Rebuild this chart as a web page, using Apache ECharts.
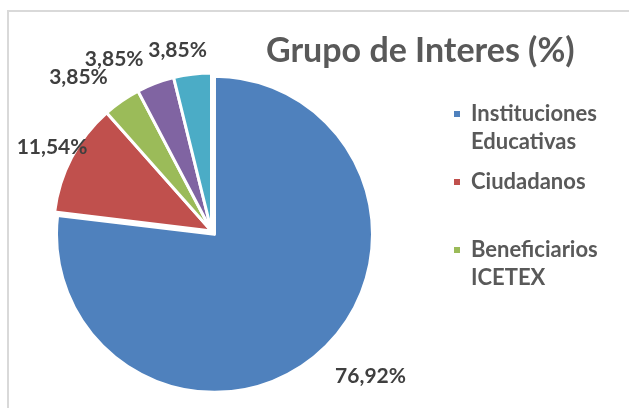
<!DOCTYPE html>
<html>
<head>
<meta charset="utf-8">
<script src="https://cdn.jsdelivr.net/npm/echarts@6/dist/echarts.min.js"></script>
<style>
  html, body { margin: 0; padding: 0; background: #ffffff; }
  #main { width: 629px; height: 408px; }
</style>
</head>
<body>
<div id="main"></div>
<script>
// data
const categories = [
  'Instituciones Educativas',
  'Ciudadanos',
  'Beneficiarios ICETEX',
  'Entidades Públicas',
  'Otros'
];
const shares = [76.92, 11.54, 3.85, 3.85, 3.85];
const legendShown = ['Instituciones Educativas', 'Ciudadanos', 'Beneficiarios ICETEX'];

// styling
const sliceColors = ['#4f81bd', '#c0504d', '#9bbb59', '#8064a2', '#4bacc6'];
const labelLen = [32, 22, 28.5, 26, 24];   // radial distance of each label
const labelLen2 = [30, 0, 27, 32, 12];     // horizontal shift of each label

const chart = echarts.init(document.getElementById('main'));

const option = {
  backgroundColor: '#ffffff',
  animation: false,
  title: {
    text: 'Grupo de Interes (%)',
    left: 261,
    top: 29,
    textStyle: {
      fontFamily: 'Lato',
      fontWeight: 'bold',
      fontSize: 34,
      color: '#595959'
    }
  },
  legend: {
    orient: 'vertical',
    left: 447,
    top: 95,
    itemGap: 12,
    itemWidth: 13,
    itemHeight: 36,
    // square at the top-left of the icon box so it lines up with the first text line
    icon: 'path://M0,0h8v8h-8z M13,36L13,36',
    data: legendShown,
    selectedMode: false,
    formatter: (name) => {
      const parts = name.split(' ');
      return parts.length > 1 ? parts.join('\n') : name + '\n ';
    },
    textStyle: {
      fontFamily: 'Lato',
      fontWeight: 'bold',
      fontSize: 22,
      lineHeight: 28,
      color: '#595959'
    }
  },
  graphic: [
    {
      type: 'rect',
      shape: { x: 8, y: 11, width: 700, height: 500 },
      style: { fill: 'none', stroke: '#d9d9d9', lineWidth: 2 },
      silent: true
    }
  ],
  series: [
    {
      type: 'pie',
      center: [211.5, 231],
      radius: 158,
      startAngle: 90,
      clockwise: true,
      selectedMode: 'single',
      selectedOffset: 4.5,
      avoidLabelOverlap: false,
      emphasis: { disabled: true },
      itemStyle: {
        borderColor: '#ffffff',
        borderWidth: 3
      },
      label: {
        show: true,
        position: 'outside',
        distanceToLabelLine: 0,
        fontFamily: 'Lato',
        fontWeight: 'bold',
        fontSize: 21,
        color: '#3f3f3f',
        formatter: (p) => p.value.toFixed(2).replace('.', ',') + '%'
      },
      labelLine: { show: false },
      labelLayout: { align: 'center', verticalAlign: 'middle', hideOverlap: false },
      data: categories.map((name, i) => ({
        name: name,
        value: shares[i],
        selected: i === 0,
        itemStyle: { color: sliceColors[i] },
        labelLine: { show: false, length: labelLen[i], length2: labelLen2[i] }
      }))
    }
  ]
};

option && chart.setOption(option);
</script>
</body>
</html>
